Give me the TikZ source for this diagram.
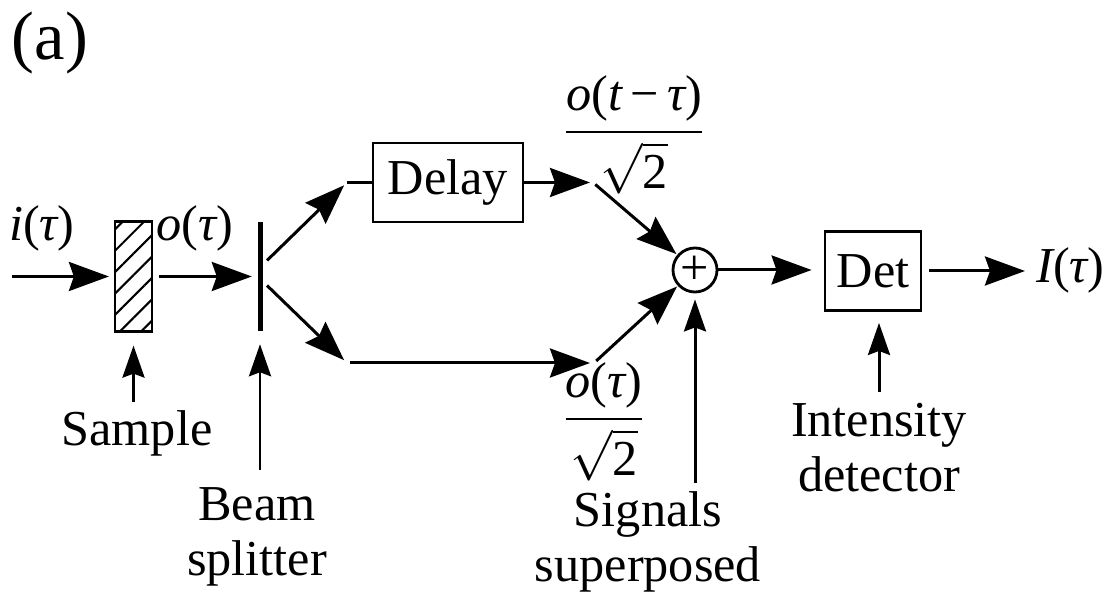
\documentclass[tikz,border=0pt]{standalone}
\usepackage{amsmath}
\usepackage{fontspec}
\setmainfont{Liberation Serif}
\newfontfamily\timesFont{Liberation Serif}
\usetikzlibrary{arrows.meta,patterns.meta}
\newcommand{\ital}[1]{{\itshape #1}}
\tikzstyle{textStyle}=[inner sep = 0pt, font = \timesFont\fontsize{14.3}{15.6}\selectfont]
\tikzstyle{blockStyle}=[shape = rectangle, draw, line width = 0.8pt, inner sep = 0pt, font = \timesFont\fontsize{14.3}{15.6}\selectfont]
\tikzstyle{signalArrow}=[line width = 0.85pt, -{Stealth[length = 0.4cm, width = 0.29cm, inset = 0.05cm]}]
\tikzstyle{pointerArrow}=[line width = 0.85pt, -{Stealth[length = 0.32cm, width = 0.22cm, inset = 0.04cm]}]

\begin{document}
\begin{tikzpicture}[x = 0.01cm, y = -0.01cm]
\tikzstyle{sampleStyle}=[shape = rectangle, draw, line width = 0.8pt, minimum width = 0.37cm, minimum height = 1.1cm, inner sep = 0pt, pattern = {Lines[angle = 45, distance = 4.3pt, line width = 0.6pt]}]
\tikzstyle{splitterStyle}=[shape = rectangle, fill, minimum width = 0.05cm, minimum height = 1.08cm, inner sep = 0pt]
\tikzstyle{sumStyle}=[shape = circle, draw, line width = 0.8pt, minimum size = 0.44cm, inner sep = 0pt, font = \timesFont\fontsize{14.3}{15.6}\selectfont]
\useasboundingbox (0,0) rectangle (1112,601);
% labels
\node[textStyle, draw = white, font = \timesFont\fontsize{19.5}{22}\selectfont] (panel) at (50,43) {(a)};
\node[inner sep = 0pt, font = \fontsize{14.3}{15.6}\selectfont] (inLabel) at (42,228) {\ital{i}(\ital{τ})};
\node[blockStyle, draw = none] (outLabel) at (195,228) {\ital{o}(\ital{τ})};
\node[textStyle] (upFrac) at (634,135) {$\genfrac{}{}{0.8pt}{0}{\mbox{\ital{o}(\ital{t}\,−\,\ital{τ})}}{\sqrt{\mbox{2}}}$};
\node[textStyle] (lowFrac) at (604,422) {$\genfrac{}{}{0.8pt}{0}{\mbox{\ital{o}(\ital{τ})}}{\sqrt{\mbox{2}}}$};
\node[textStyle, anchor = west, line width = 0.8pt] (result) at (1035,270) {\ital{I}(\ital{τ})};
% optical elements
\coordinate (source) at (12,276.5);
\node[sampleStyle] (sample) at (133.5,276.5) {};
\node[splitterStyle] (split) at (260,276.5) {};
\node[blockStyle, minimum width = 1.5cm, minimum height = 0.79cm] (delay) at (448,182.5) {Delay};
\node[sumStyle] (sum) at (695,270) {+};
\node[blockStyle, minimum width = 0.96cm, minimum height = 0.79cm] (det) at (873,271) {Det};
\coordinate (upA) at (347,182.5);
\coordinate (upB) at (593,182.5);
\coordinate (lowA) at (347,363);
\coordinate (lowB) at (594,363);
% captions
\node[textStyle, anchor = north] (sampleText) at (137,410) {Sample};
\node[textStyle, anchor = north, align = center] (splitText) at (257,487) {Beam\\splitter};
\node[textStyle, anchor = north, align = center] (sumText) at (648,491) {Signals\\superposed};
\node[textStyle, anchor = north, align = center] (detText) at (879,403) {Intensity\\detector};
% signal path
\draw[signalArrow, shorten >= 0.05cm] (source) -- (sample.west);
\draw[signalArrow, shorten <= 0.06cm, shorten >= 0.05cm] (sample.east) -- (split.west);
\draw[signalArrow, shorten >= 0.04cm] ([xshift = 0.07cm, yshift = 0.16cm]split.center) -- (upA);
\draw[line width = 0.85pt] (upA) -- (delay.west);
\draw[signalArrow, shorten >= 0.03cm] (delay.east) -- (upB);
\draw[signalArrow, shorten <= 0.03cm, shorten >= 0.01cm] (upB) -- (sum);
\draw[signalArrow, shorten >= 0.04cm] ([xshift = 0.07cm, yshift = -0.09cm]split.center) -- (lowA);
\draw[signalArrow, shorten <= 0.03cm, shorten >= 0.04cm] (lowA) -- (lowB);
\draw[signalArrow, shorten <= 0.03cm, shorten >= 0.01cm] (lowB) -- (sum);
\draw[signalArrow, shorten >= 0.12cm] (sum.east) -- (sum.east -| det.west);
\draw[signalArrow, shorten <= 0.07cm, shorten >= 0.1cm] (det.east) -- (det.east -| result.west);
% pointers
\draw[pointerArrow, shorten <= 0.08cm, shorten >= 0.13cm] (sample.south |- sampleText.north) -- (sample.south);
\draw[pointerArrow, shorten <= 0.17cm, shorten >= 0.13cm] (split.south |- splitText.north) -- (split.south);
\draw[pointerArrow, shorten <= 0.08cm, shorten >= 0.06cm] (sum.south |- sumText.north) -- (sum.south);
\draw[pointerArrow, shorten <= 0.11cm, shorten >= 0.11cm] (detText.north) -- (detText.north |- det.south);
\end{tikzpicture}
\end{document}
